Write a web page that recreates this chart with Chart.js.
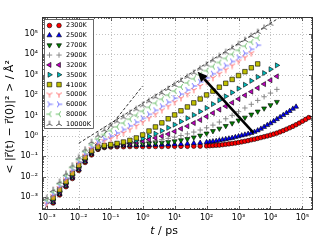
<!DOCTYPE html>
<html><head><meta charset="utf-8">
<script src="https://cdn.jsdelivr.net/npm/chart.js@4.4.0/dist/chart.umd.min.js"></script>
<style>html,body{margin:0;padding:0;background:#fff}</style>
</head><body>
<canvas id="c" width="320" height="240"></canvas>
<script>
// ---------- data ----------
const seriesLabels = ['2300K','2500K','2700K','2900K','3200K','3500K','4100K','5000K','6000K','8000K','10000K'];
const timeGrid = [0.001,0.00158,0.00251,0.00398,0.00631,0.01,0.0158,0.0251,0.0398,0.0631,0.1,0.158,0.251,0.398,0.631,1,1.58,2.51,3.98,6.31,10,15.8,25.1,39.8,63.1,100,158,251,398,631,1000,1585,2512,3981,6310,10000,15850];
const timeLong = [126,158,200,251,316,398,501,631,794,1000,1259,1585,1995,2512,3162,3981,5012,6310,7943,10000,12590,15850,19950,25120,31620,39810,50120,63100,79430,100000,125900,158500];

const msd2300K = [5.13e-4,1.29e-3,3.24e-3,8.13e-3,0.0204,0.0501,0.117,0.219,0.269,0.288,0.295,0.295,0.302,0.302,0.302,0.302,0.302,0.302,0.309,0.309,0.309,0.309,0.316,0.316,0.324,
  0.331,0.339,0.347,0.355,0.372,0.389,0.407,0.427,0.447,0.479,0.513,0.550,0.589,0.646,0.692,0.759,0.832,0.912,1.00,1.10,1.23,1.38,1.58,1.82,2.14,2.51,2.95,3.55,4.27,5.25,6.46,7.94];
const msd2500K = [5.62e-4,1.41e-3,3.55e-3,8.91e-3,0.0224,0.0550,0.132,0.240,0.295,0.316,0.331,0.339,0.347,0.347,0.355,0.355,0.363,0.372,0.380,0.389,0.398,0.417,0.437,0.457,0.490,
  0.513,0.537,0.562,0.603,0.646,0.692,0.741,0.794,0.871,0.955,1.05,1.15,1.26,1.38,1.58,1.86,2.24,2.75,3.39,4.17,5.25,6.61,8.32,10.5,13.2,16.6,21.4,26.9];
const msd2700K = [6.03e-4,1.51e-3,3.80e-3,9.55e-3,0.0237,0.0590,0.135,0.237,0.288,0.316,0.339,0.355,0.372,0.389,0.407,0.427,0.447,0.468,0.501,0.550,0.617,0.708,0.851,1.05,1.32,1.74,2.29,3.09,4.17,5.75,7.94,11.2,15.8,22.4,32.4,46.8];
const msd2900K = [6.46e-4,1.62e-3,4.07e-3,0.0102,0.0254,0.0632,0.143,0.247,0.302,0.331,0.355,0.380,0.407,0.447,0.490,0.537,0.589,0.661,0.759,0.871,1.05,1.26,1.55,1.95,2.51,3.39,4.79,6.92,10.2,15.5,23.4,35.5,55.0,83.2,126,191];
const msd3200K = [7.08e-4,1.78e-3,4.47e-3,0.0112,0.0279,0.0690,0.153,0.254,0.310,0.339,0.363,0.398,0.437,0.490,0.562,0.661,0.794,0.977,1.23,1.66,2.24,3.02,4.27,6.03,8.91,13.2,19.5,28.8,42.7,64.6,97.7,148,224,347,537,832];
const msd3500K = [7.76e-4,1.95e-3,4.90e-3,0.0123,0.0307,0.0753,0.163,0.265,0.327,0.363,0.398,0.447,0.513,0.603,0.741,0.955,1.29,1.78,2.51,3.55,5.13,7.41,10.7,15.8,23.4,36.3,56.2,87.1,135,209,324,501,776,1202,1862,2884];
const msd4100K = [9.12e-4,2.29e-3,5.75e-3,0.0145,0.0361,0.0871,0.185,0.287,0.340,0.380,0.427,0.501,0.603,0.794,1.12,1.74,2.75,4.37,6.92,10.7,17.0,26.3,41.7,64.6,102,158,245,380,589,912,1413,2188,3388];
const msd5000K = [4.47e-4,1.12e-3,2.82e-3,7.08e-3,0.0178,0.0443,0.107,0.232,0.395,0.553,0.736,1.00,1.42,2.08,3.12,4.76,7.38,11.5,18.1,28.5,45.0,71.1,112,178,282,447,708,1122,1778,2818,4467,7079,11220];
const msd6000K = [5.37e-4,1.35e-3,3.39e-3,8.51e-3,0.0214,0.0531,0.128,0.276,0.480,0.705,0.989,1.41,2.07,3.12,4.76,7.38,11.5,18.1,28.5,45.1,71.1,112,178,282,447,708,1122,1778,2818,4467,7079,11220,17780,28180];
const msd8000K = [7.08e-4,1.78e-3,4.47e-3,0.0112,0.0282,0.070,0.169,0.376,0.714,1.18,1.82,2.78,4.26,6.61,10.3,16.1,25.4,40.1,63.1,100,158,251,398,631,1000,1585,2512,3981,6310,10000,15850,25120,39810,63100];
const msd10000K = [8.91e-4,2.24e-3,5.62e-3,0.0141,0.0355,0.0881,0.215,0.501,1.05,1.93,3.22,5.16,8.15,12.8,20.3,31.9,50.4,79.4,126,200,316,501,794,1259,1995,3162,5012,7943,12590,19950,31620,50120,79430,125900,199500,316200];

const seriesTimes = [
  timeGrid.slice(1, 26).concat(timeLong),
  timeGrid.slice(1, 26).concat(timeLong),
  timeGrid.slice(1), timeGrid.slice(1), timeGrid.slice(1), timeGrid.slice(1),
  timeGrid.slice(1), timeGrid, timeGrid, timeGrid, timeGrid
];
const seriesValues = [msd2300K,msd2500K,msd2700K,msd2900K,msd3200K,msd3500K,msd4100K,msd5000K,msd6000K,msd8000K,msd10000K];

// reference guide lines (ballistic and diffusive)
const ballisticT = [0.00089, 1.0];
const ballisticMsd = [0.0003, 282];
const diffusiveT = [0.01, 18200];
const diffusiveMsd = [0.437, 600000];
// arrow (tail -> head)
const arrowT = [2950, 52.5];
const arrowMsd = [1.41, 1413];

const xTickValues = [1e-3,1e-2,1e-1,1,10,100,1000,1e4,1e5];
const xTickLabels = ['10\u207B\u00B3','10\u207B\u00B2','10\u207B\u00B9','10\u2070','10\u00B9','10\u00B2','10\u00B3','10\u2074','10\u2075'];
const yTickValues = [1e-3,1e-2,1e-1,1,10,100,1000,1e4,1e5];
const yTickLabels = ['10\u207B\u00B3','10\u207B\u00B2','10\u207B\u00B9','10\u2070','10\u00B9','10\u00B2','10\u00B3','10\u2074','10\u2075'];

// ---------- styles ----------
function triCanvas(color, angles) {
  const s = 8, c = document.createElement('canvas');
  c.width = s; c.height = s;
  const g = c.getContext('2d');
  g.strokeStyle = color; g.lineWidth = 1; g.beginPath();
  for (const a of angles) {
    const r = a * Math.PI / 180;
    g.moveTo(s/2, s/2);
    g.lineTo(s/2 + 3.3*Math.cos(r), s/2 + 3.3*Math.sin(r));
  }
  g.stroke();
  return c;
}
const styles = [
  {marker:'circle', fill:'#ff0000', size:2.3},
  {marker:'triangle', rot:0, fill:'#0000ff', size:2.9},
  {marker:'triangle', rot:180, fill:'#008000', size:2.9},
  {marker:'cross', stroke:'#808080', size:2.7},
  {marker:'triangle', rot:-90, fill:'#bf00bf', size:2.9},
  {marker:'triangle', rot:90, fill:'#00bfbf', size:2.9},
  {marker:'rect', fill:'#bfbf00', size:3.2},
  {img: triCanvas('#ff7070', [90,210,330])},
  {img: triCanvas('#7070ff', [0,120,240])},
  {img: triCanvas('#70c070', [180,300,60])},
  {img: triCanvas('#505050', [270,30,150])}
];

function pts(ts, vs) { return vs.map((v, i) => ({x: ts[i], y: v})); }

const datasets = seriesLabels.map((lab, i) => {
  const st = styles[i];
  return {
    label: lab,
    data: pts(seriesTimes[i], seriesValues[i]),
    showLine: false,
    order: 100 - i,
    pointStyle: st.img || (st.marker === 'rect' ? 'rect' : st.marker),
    pointRotation: st.rot || 0,
    pointRadius: st.img ? 3 : st.size,
    pointBackgroundColor: st.fill || 'rgba(0,0,0,0)',
    pointBorderColor: st.marker === 'cross' ? st.stroke : '#000',
    pointBorderWidth: st.marker === 'cross' ? 0.9 : 0.6
  };
});
datasets.push({
  label: 'ballistic', data: pts(ballisticT, ballisticMsd), showLine: true, order: 200,
  pointRadius: 0, borderColor: '#000', borderWidth: 0.8, borderDash: [3, 2]
});
datasets.push({
  label: 'diffusive', data: pts(diffusiveT, diffusiveMsd), showLine: true, order: 200,
  pointRadius: 0, borderColor: '#000', borderWidth: 0.8, borderDash: [3, 2]
});

function drawMarker(ctx, st, x, y) {
  ctx.save();
  if (st.img) { ctx.drawImage(st.img, x - st.img.width/2, y - st.img.height/2); ctx.restore(); return; }
  const r = st.size;
  ctx.lineWidth = st.marker === 'cross' ? 0.9 : 0.6;
  ctx.strokeStyle = st.marker === 'cross' ? st.stroke : '#000';
  ctx.beginPath();
  if (st.marker === 'circle') ctx.arc(x, y, r, 0, Math.PI*2);
  else if (st.marker === 'triangle') {
    let a = (st.rot || 0) * Math.PI / 180;
    ctx.moveTo(x + Math.sin(a)*r, y - Math.cos(a)*r);
    a += 2*Math.PI/3; ctx.lineTo(x + Math.sin(a)*r, y - Math.cos(a)*r);
    a += 2*Math.PI/3; ctx.lineTo(x + Math.sin(a)*r, y - Math.cos(a)*r);
    ctx.closePath();
  } else if (st.marker === 'rect') {
    const s = r * Math.SQRT1_2; ctx.rect(x - s, y - s, 2*s, 2*s);
  } else if (st.marker === 'cross') {
    ctx.moveTo(x - r, y); ctx.lineTo(x + r, y); ctx.moveTo(x, y - r); ctx.lineTo(x, y + r);
  }
  if (st.fill) { ctx.fillStyle = st.fill; ctx.fill(); }
  ctx.stroke();
  ctx.restore();
}

const decor = {
  id: 'decor',
  beforeDatasetsDraw(chart) {
    const {ctx, chartArea: a, scales: {x, y}} = chart;
    ctx.save();
    ctx.strokeStyle = '#a8a8a8'; ctx.lineWidth = 0.7; ctx.setLineDash([1, 2]);
    ctx.beginPath();
    for (const v of xTickValues) { const p = Math.round(x.getPixelForValue(v)) + 0.5; ctx.moveTo(p, a.top); ctx.lineTo(p, a.bottom); }
    for (const v of yTickValues) { const p = Math.round(y.getPixelForValue(v)) + 0.5; ctx.moveTo(a.left, p); ctx.lineTo(a.right, p); }
    ctx.stroke();
    ctx.restore();
  },
  afterDatasetsDraw(chart) {
    const {ctx, chartArea: a, scales: {x, y}} = chart;
    // arrow
    const x0 = x.getPixelForValue(arrowT[0]), y0 = y.getPixelForValue(arrowMsd[0]);
    const x1 = x.getPixelForValue(arrowT[1]), y1 = y.getPixelForValue(arrowMsd[1]);
    const len = Math.hypot(x1 - x0, y1 - y0), dx = (x1 - x0)/len, dy = (y1 - y0)/len;
    const hl = 10, hw = 4.5, bx = x1 - dx*hl, by = y1 - dy*hl;
    ctx.save();
    ctx.strokeStyle = '#000'; ctx.fillStyle = '#000'; ctx.lineWidth = 2.6;
    ctx.beginPath(); ctx.moveTo(x0, y0); ctx.lineTo(bx, by); ctx.stroke();
    ctx.beginPath(); ctx.moveTo(x1, y1); ctx.lineTo(bx - dy*hw, by + dx*hw); ctx.lineTo(bx + dy*hw, by - dx*hw); ctx.closePath(); ctx.fill();
    ctx.restore();

    // ticks (major + minor), inward on all sides
    ctx.save();
    ctx.strokeStyle = '#000'; ctx.lineWidth = 0.6; ctx.beginPath();
    for (let k = -4; k <= 5; k++) {
      for (let m = 1; m <= 9; m++) {
        const v = m * Math.pow(10, k);
        const L = m === 1 ? 4 : 2;
        if (v >= x.min && v <= x.max) {
          const p = Math.round(x.getPixelForValue(v)) + 0.5;
          ctx.moveTo(p, a.bottom); ctx.lineTo(p, a.bottom - L);
          ctx.moveTo(p, a.top); ctx.lineTo(p, a.top + L);
        }
        if (v >= y.min && v <= y.max) {
          const p = Math.round(y.getPixelForValue(v)) + 0.5;
          ctx.moveTo(a.left, p); ctx.lineTo(a.left + L, p);
          ctx.moveTo(a.right, p); ctx.lineTo(a.right - L, p);
        }
      }
    }
    ctx.stroke();
    // frame
    ctx.lineWidth = 1; ctx.strokeStyle = '#333';
    ctx.strokeRect(a.left + 0.5, a.top + 0.5, a.right - a.left - 1, a.bottom - a.top - 1);
    ctx.restore();

    // legend
    ctx.save();
    const lx = a.left + 2.5, ly = a.top + 2.5, lw = 49, lh = 109;
    ctx.fillStyle = '#fff'; ctx.fillRect(lx, ly, lw, lh);
    ctx.strokeStyle = '#444'; ctx.lineWidth = 0.8; ctx.strokeRect(lx, ly, lw, lh);
    ctx.font = '6.5px "DejaVu Sans"'; ctx.fillStyle = '#000'; ctx.textBaseline = 'middle'; ctx.textAlign = 'left';
    seriesLabels.forEach((lab, i) => {
      const yy = ly + 6 + i * 9.85;
      drawMarker(ctx, styles[i], lx + 5, yy);
      drawMarker(ctx, styles[i], lx + 14.5, yy);
      ctx.fillText(lab, lx + 21.5, yy + 0.3);
    });
    ctx.restore();

    // axis titles
    ctx.save();
    ctx.fillStyle = '#000'; ctx.textBaseline = 'middle';
    ctx.translate(10, 117); ctx.rotate(-Math.PI/2);
    ctx.font = '11px "DejaVu Sans"'; ctx.textAlign = 'center';
    ctx.fillText('< |r\u20D7(t) \u2212 r\u20D7(0)|\u00B2 > / \u00C5\u00B2', 0, 0);
    ctx.restore();
    ctx.save();
    ctx.fillStyle = '#000'; ctx.textBaseline = 'middle';
    ctx.font = 'italic 11px "DejaVu Sans"'; const wt = ctx.measureText('t').width;
    ctx.font = '11px "DejaVu Sans"'; const wr = ctx.measureText(' / ps').width;
    const sx = 164 - (wt + wr)/2;
    ctx.font = 'italic 11px "DejaVu Sans"'; ctx.fillText('t', sx, 231.5);
    ctx.font = '11px "DejaVu Sans"'; ctx.fillText(' / ps', sx + wt, 231.5);
    ctx.restore();
  }
};

const tickFont = {family: 'DejaVu Sans', size: 8};
new Chart(document.getElementById('c'), {
  type: 'scatter',
  data: {datasets},
  plugins: [decor],
  options: {
    responsive: false, animation: false, events: [],
    layout: {padding: {top: 17, right: 7, left: 0, bottom: 0}},
    plugins: {legend: {display: false}, tooltip: {enabled: false}},
    scales: {
      x: {
        type: 'logarithmic', position: 'bottom', min: 7.08e-4, max: 2.14e5,
        grid: {display: false, drawTicks: false}, border: {display: false},
        afterBuildTicks: s => { s.ticks = xTickValues.map(v => ({value: v})); },
        afterFit: s => { s.height = 30; },
        ticks: {autoSkip: false, maxRotation: 0, minRotation: 0, padding: 3, color: '#000', font: tickFont,
          callback: v => { const i = xTickValues.indexOf(v); return i >= 0 ? xTickLabels[i] : ''; }}
      },
      y: {
        type: 'logarithmic', position: 'left', min: 2.34e-4, max: 6.76e5,
        grid: {display: false, drawTicks: false}, border: {display: false},
        afterBuildTicks: s => { s.ticks = yTickValues.map(v => ({value: v})); },
        afterFit: s => { s.width = 42; },
        ticks: {autoSkip: false, padding: 4, color: '#000', font: tickFont,
          callback: v => { const i = yTickValues.indexOf(v); return i >= 0 ? yTickLabels[i] : ''; }}
      }
    }
  }
});
</script>
</body></html>
